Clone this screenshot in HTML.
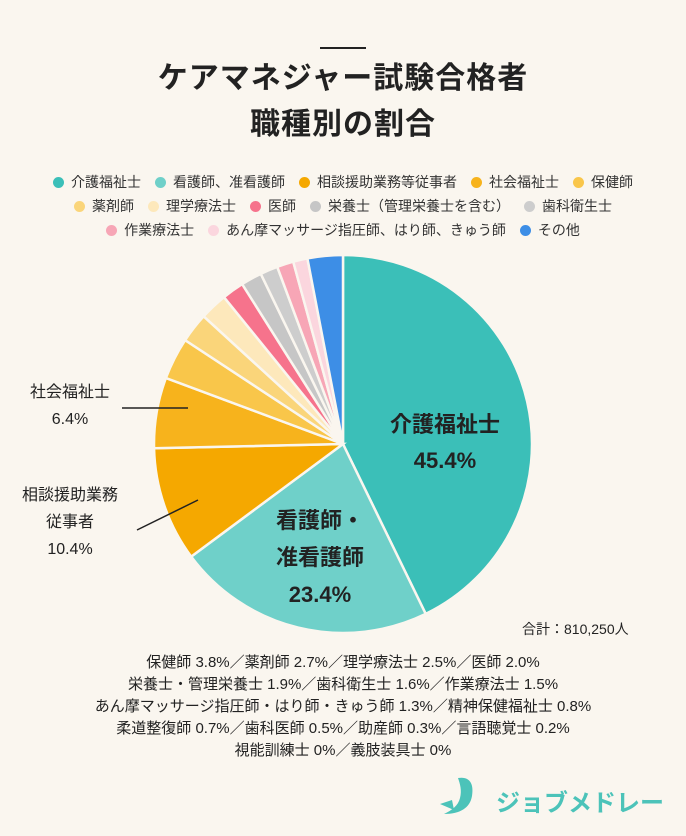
<!DOCTYPE html>
<html><head><meta charset="utf-8"><style>
body{margin:0;width:686px;height:836px;background:#faf6ef;font-family:"Liberation Sans","Noto Sans CJK JP",sans-serif;color:#222;position:relative;overflow:hidden}
.t{position:absolute;left:0;width:686px;text-align:center}
.lg{position:absolute;left:0;width:686px;text-align:center;font-size:14px;color:#333;white-space:nowrap}
.lg span{margin:0 7px;white-space:nowrap}
.lg i{display:inline-block;width:11px;height:11px;border-radius:50%;margin-right:7px;vertical-align:-1px}
.lab{position:absolute;text-align:center;font-size:16px;line-height:27px;color:#222}
</style></head><body>
<div style="position:absolute;left:320px;top:47px;width:46px;height:2px;background:#222"></div>
<div class="t" style="top:56px;font-size:30px;font-weight:bold;line-height:46px;letter-spacing:1px">ケアマネジャー試験合格者<br>職種別の割合</div>
<div class="lg" style="top:172px"><span><i style="background:#3bbfb8"></i>介護福祉士</span><span><i style="background:#6fd0c9"></i>看護師、准看護師</span><span><i style="background:#f5a800"></i>相談援助業務等従事者</span><span><i style="background:#f7b31c"></i>社会福祉士</span><span><i style="background:#f9c64a"></i>保健師</span></div>
<div class="lg" style="top:196px"><span><i style="background:#fad57a"></i>薬剤師</span><span><i style="background:#fde8bb"></i>理学療法士</span><span><i style="background:#f6738c"></i>医師</span><span><i style="background:#c6c6c6"></i>栄養士（管理栄養士を含む）</span><span><i style="background:#cdcdcd"></i>歯科衛生士</span></div>
<div class="lg" style="top:220px"><span><i style="background:#f7a6b6"></i>作業療法士</span><span><i style="background:#fbd6de"></i>あん摩マッサージ指圧師、はり師、きゅう師</span><span><i style="background:#3d8ee6"></i>その他</span></div>
<svg id="pie" style="position:absolute;left:0;top:0" width="686" height="836"></svg>
<div class="lab" style="left:365px;top:407px;width:160px;font-size:22px;line-height:36px;font-weight:bold">介護福祉士<br>45.4%</div>
<div class="lab" style="left:245px;top:502px;width:150px;font-size:22px;line-height:37px;font-weight:bold">看護師・<br>准看護師<br>23.4%</div>
<div class="lab" style="left:5px;top:379px;width:130px">社会福祉士<br>6.4%</div>
<div class="lab" style="left:5px;top:482px;width:130px">相談援助業務<br>従事者<br>10.4%</div>
<div style="position:absolute;left:522px;top:619px;font-size:14px">合計：810,250人</div>
<div class="t" style="top:652px;font-size:15px;line-height:22px">保健師 3.8%／薬剤師 2.7%／理学療法士 2.5%／医師 2.0%<br>栄養士・管理栄養士 1.9%／歯科衛生士 1.6%／作業療法士 1.5%<br>あん摩マッサージ指圧師・はり師・きゅう師 1.3%／精神保健福祉士 0.8%<br>柔道整復師 0.7%／歯科医師 0.5%／助産師 0.3%／言語聴覚士 0.2%<br>視能訓練士 0%／義肢装具士 0%</div>
<svg style="position:absolute;left:436px;top:774px" width="50" height="46"><path d="M22 4 C34 2 38 10 36 22 C34 34 24 40 8 40 C16 36 22 32 24 24 C26 16 24 10 22 4Z" fill="#4cc3b9"/><path d="M4 30 L16 26 L18 36 Z" fill="#4cc3b9"/></svg>
<div style="position:absolute;left:496px;top:783px;font-size:24px;font-weight:bold;color:#4cc3b9;white-space:nowrap">ジョブメドレー</div>
<script>
var v=[45.4,23.4,10.4,6.4,3.8,2.7,2.5,2.0,1.9,1.6,1.5,1.3,3.2];
var c=["#3bbfb8","#6fd0c9","#f5a800","#f7b31c","#f9c64a","#fad57a","#fde8bb","#f6738c","#c6c6c6","#cdcdcd","#f7a6b6","#fbd6de","#3d8ee6"];
var s=v.reduce((a,b)=>a+b,0),cx=343,cy=444,r=189,a=0,h="";
function p(t){return [cx+r*Math.sin(t),cy-r*Math.cos(t)];}
v.forEach(function(x,i){var b=a+x/s*2*Math.PI,p1=p(a),p2=p(b);
h+='<path d="M'+cx+' '+cy+'L'+p1[0]+' '+p1[1]+'A'+r+' '+r+' 0 '+((b-a)>Math.PI?1:0)+' 1 '+p2[0]+' '+p2[1]+'Z" fill="'+c[i]+'" stroke="#faf6ef" stroke-width="2.5"/>';a=b;});
h+='<line x1="122" y1="408" x2="188" y2="408" stroke="#222" stroke-width="1.5"/><line x1="137" y1="530" x2="198" y2="500" stroke="#222" stroke-width="1.5"/>';
document.getElementById("pie").innerHTML=h;
</script>
</body></html>
